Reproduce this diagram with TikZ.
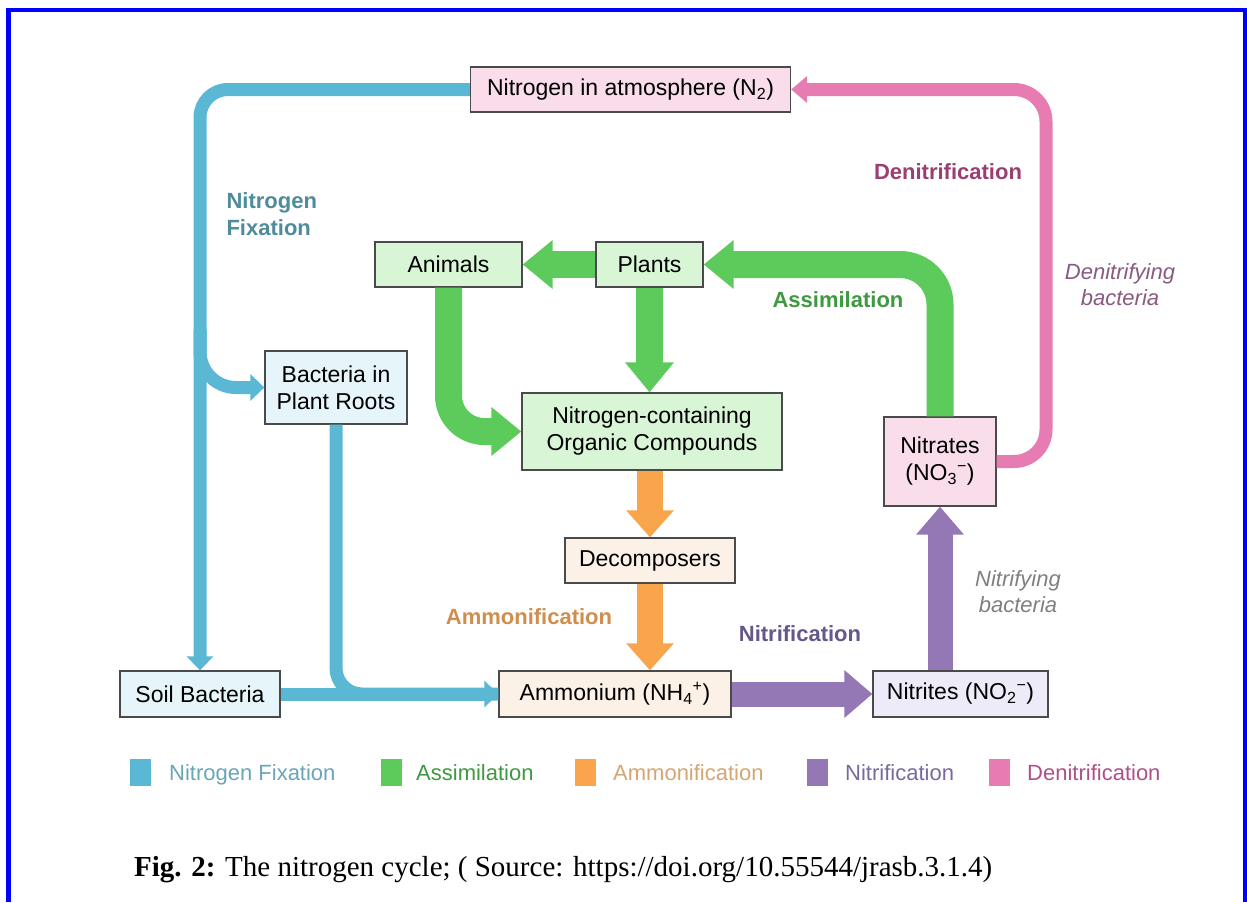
\documentclass[tikz,border=0pt]{standalone}
\usepackage{fontspec}
\setmainfont{Liberation Sans}
\newfontfamily\capfont{Liberation Serif}
\usetikzlibrary{arrows.meta}
\definecolor{fixc}{HTML}{5BB8D5}
\definecolor{assc}{HTML}{5CCB5C}
\definecolor{ammc}{HTML}{F8A54C}
\definecolor{nitc}{HTML}{9477B5}
\definecolor{denc}{HTML}{E67CB1}
\definecolor{boxline}{HTML}{4A4A4A}
\definecolor{fpink}{HTML}{F9DDEA}
\definecolor{fgreen}{HTML}{D8F5D6}
\definecolor{fblue}{HTML}{E6F5FA}
\definecolor{fpeach}{HTML}{FCF1E6}
\definecolor{flav}{HTML}{EEEBF8}
\definecolor{lfix}{HTML}{4E8C9C}
\definecolor{lass}{HTML}{3E9A40}
\definecolor{lamm}{HTML}{D08E4E}
\definecolor{lnit}{HTML}{65578A}
\definecolor{lden}{HTML}{9A3F72}
\definecolor{lidn}{HTML}{8A5A80}
\definecolor{lgfix}{HTML}{6AA6B8}
\definecolor{lgamm}{HTML}{D6A672}
\definecolor{lgnit}{HTML}{7A6A9C}
\definecolor{lgden}{HTML}{B0508A}
\definecolor{frameblue}{HTML}{0000FF}
\tikzset{
  box/.style={draw=boxline, line width=1.3pt, minimum height=45pt, inner sep=0pt,
    font=\fontsize{23}{27}\selectfont, align=center},
  fixarrow/.style={draw=fixc, line width=13pt},
  fixtip/.style={-{Triangle[width=26pt,length=14pt]}},
  assarrow/.style={draw=assc, line width=27pt, -{Triangle[width=47pt,length=30pt]}},
  ammarrow/.style={draw=ammc, line width=26pt, -{Triangle[width=46pt,length=27pt]}},
  nitarrow/.style={draw=nitc, line width=25pt, -{Triangle[width=46pt,length=28pt]}},
  denarrow/.style={draw=denc, line width=13pt, -{Triangle[width=26pt,length=16pt]}},
  lbl/.style={font=\bfseries\fontsize{22}{27}\selectfont, align=center},
  ilbl/.style={font=\itshape\fontsize{22}{26}\selectfont, align=center},
  legsq/.style={minimum width=21pt, minimum height=27pt, inner sep=0pt},
  legtxt/.style={anchor=base west, inner sep=0pt, font=\fontsize{22}{26}\selectfont},
}
\begin{document}
\begin{tikzpicture}[x=1pt,y=-1pt]
\useasboundingbox (0,0) rectangle (1247,902);
\fill[white] (0,0) rectangle (1247,902);
% frame
\draw[frameblue, line width=4.6pt] (8.5,902) -- (8.5,10) -- (1245,10) -- (1245,902);

% boxes
\node[box, fill=fpink, minimum width=320pt] (atm) at (630.5,89.5) {Nitrogen in atmosphere (N\textsubscript{2})};
\node[box, fill=fblue, minimum width=142pt, minimum height=73pt] (roots) at (336,387.5) {Bacteria in\\Plant Roots};
\node[box, fill=fblue, minimum width=160pt, minimum height=46pt] (soil) at (200,694) {Soil Bacteria};
\node[box, fill=fgreen, minimum width=147pt] (animals) at (448.5,264.5) {Animals};
\node[box, fill=fgreen, minimum width=107pt] (plants) at (649.5,264.5) {Plants};
\node[box, fill=fgreen, minimum width=260pt, minimum height=77pt] (ncoc) at (652,431.5) {Nitrogen-containing\\Organic Compounds};
\node[box, fill=fpeach, minimum width=170pt] (decomp) at (650,560.5) {Decomposers};
\node[box, fill=fpeach, minimum width=232pt, minimum height=46pt] (amm) at (615,694) {Ammonium (NH\textsubscript{4}\textsuperscript{+})};
\node[box, fill=flav, minimum width=175pt, minimum height=46pt] (nitrites) at (960.5,694) {Nitrites (NO\textsubscript{2}\textsuperscript{−})};
\node[box, fill=fpink, minimum width=112pt, minimum height=89pt] (nitrates) at (940,461.5) {Nitrates\\(NO\textsubscript{3}\textsuperscript{−})};

% nitrogen fixation (blue)
\coordinate (br) at (200,330);
\draw[fixarrow, fixtip, rounded corners=28pt] (atm.west) -| (soil.north);
\draw[fixarrow, fixtip, rounded corners=36pt] (br) |- (roots.west);
\draw[fixarrow, rounded corners=26pt] (roots.south) |- (amm.west);
\draw[fixarrow, fixtip] (soil.east) -- (amm.west);

% assimilation (green)
\draw[assarrow] (plants.west) -- (animals.east);
\draw[assarrow, rounded corners=36pt] (animals.south) |- (ncoc.west);
\draw[assarrow] (plants.south) -- (plants.south |- ncoc.north);
\draw[assarrow, rounded corners=40pt] (nitrates.north) |- (plants.east);

% ammonification (orange)
\draw[ammarrow] (decomp.north |- ncoc.south) -- (decomp.north);
\draw[ammarrow] (decomp.south) -- (decomp.south |- amm.north);

% nitrification (purple)
\draw[nitarrow] (amm.east) -- (nitrites.west);
\draw[nitarrow] (nitrates.south |- nitrites.north) -- (nitrates.south);

% denitrification (pink)
\coordinate (pk) at (1046,89.5);
\draw[denarrow, rounded corners=32pt] (nitrates.east) -| (pk) -- (atm.east);

% labels
\node[lbl, text=lfix, align=left, anchor=west] (lfixn) at (223,214) {Nitrogen\\Fixation};
\node[lbl, text=lass] (lassn) at (838,300) {Assimilation};
\node[lbl, text=lden] (ldenn) at (948,172) {Denitrification};
\node[ilbl, text=lidn] (lidnn) at (1120,285) {Denitrifying\\bacteria};
\node[lbl, text=lamm] (lammn) at (529,617) {Ammonification};
\node[lbl, text=lnit] (lnitn) at (800,634) {Nitrification};
\node[ilbl, text=gray] (linin) at (1018,592) {Nitrifying\\bacteria};

% legend
\node[legsq, fill=fixc] (sq1) at (140.5,772) {};
\node[legtxt, text=lgfix] (t1) at (169,780) {Nitrogen Fixation};
\node[legsq, fill=assc] (sq2) at (391,772) {};
\node[legtxt, text=lass] (t2) at (416,780) {Assimilation};
\node[legsq, fill=ammc] (sq3) at (585.5,772) {};
\node[legtxt, text=lgamm] (t3) at (613,780) {Ammonification};
\node[legsq, fill=nitc] (sq4) at (817,772) {};
\node[legtxt, text=lgnit] (t4) at (845,780) {Nitrification};
\node[legsq, fill=denc] (sq5) at (999,772) {};
\node[legtxt, text=lgden] (t5) at (1027,780) {Denitrification};

% caption
\node[anchor=base west, inner sep=0pt, font=\capfont\fontsize{29}{33}\selectfont] (cap) at (134,876)
  {\textbf{Fig. 2:} The nitrogen cycle; ( Source: https://doi.org/10.55544/jrasb.3.1.4)};
\end{tikzpicture}
\end{document}
